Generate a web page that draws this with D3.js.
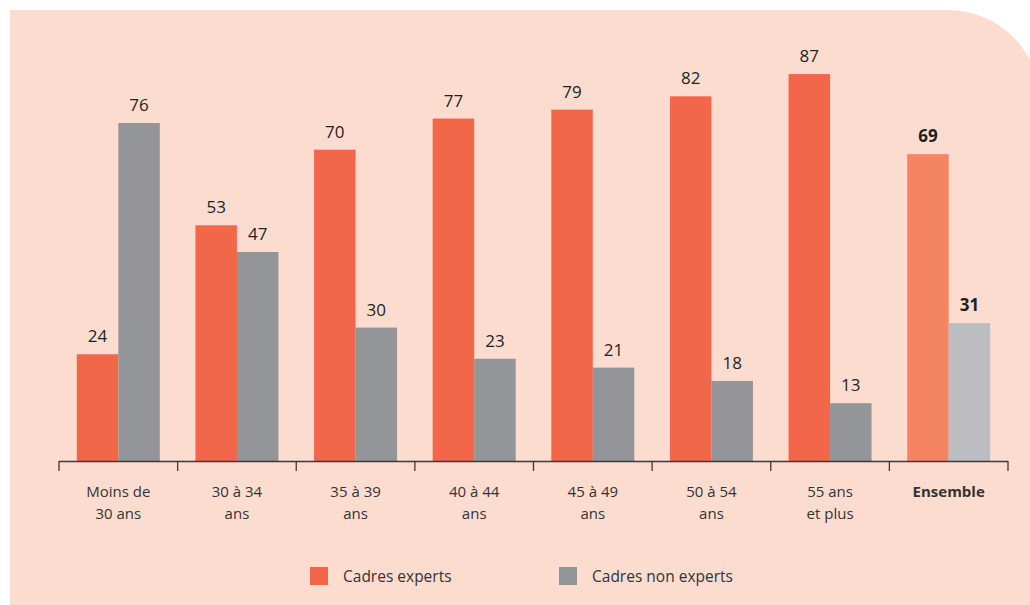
<!DOCTYPE html>
<html>
<head>
<meta charset="utf-8">
<script src="https://cdn.jsdelivr.net/npm/d3@7"></script>
<style>
  html, body { margin: 0; padding: 0; background: #ffffff; }
  svg { display: block; font-family: "Open Sans", "DejaVu Sans", sans-serif; }
</style>
</head>
<body>
<svg id="chart" width="1030" height="605"></svg>
<script>
// Age groups (two-line labels) and share of each type of manager, in %
const categories = [
  ["Moins de", "30 ans"],
  ["30 à 34", "ans"],
  ["35 à 39", "ans"],
  ["40 à 44", "ans"],
  ["45 à 49", "ans"],
  ["50 à 54", "ans"],
  ["55 ans", "et plus"],
  ["Ensemble"]
];
const experts    = [24, 53, 70, 77, 79, 82, 87, 69];
const nonExperts = [76, 47, 30, 23, 21, 18, 13, 31];
const seriesNames = ["Cadres experts", "Cadres non experts"];

const svg = d3.select("#chart");
const W = 1030, H = 605;

// Panel with a rounded top-right corner
const px = 10, py = 10, pw = 1030, ph = 600, r = 92;
svg.append("path")
  .attr("d", `M${px},${py} H${px + pw - r} A${r},${r} 0 0 1 ${px + pw},${py + r} V${py + ph} H${px} Z`)
  .attr("fill", "#fddcd0");

const left = 59, right = 1008, baseY = 461, topY = 123;
const x = d3.scaleBand().domain(d3.range(categories.length)).range([left, right]).paddingInner(0).paddingOuter(0);
const y = d3.scaleLinear().domain([0, 76]).range([baseY, topY]);
const sub = d3.scaleBand().domain([0, 1]).range([0, 83]);
const barOffset = (x.bandwidth() - 83) / 2;

const colors = [
  ["#f26649", "#939598"],
  ["#f58562", "#bbbdc0"]
];

const groups = svg.append("g").selectAll("g")
  .data(categories.map((c, i) => ({ i, vals: [experts[i], nonExperts[i]], total: c.length === 1 })))
  .join("g")
  .attr("transform", d => `translate(${x(d.i) + barOffset},0)`);

groups.selectAll("rect")
  .data(d => d.vals.map((v, k) => ({ v, k, total: d.total })))
  .join("rect")
  .attr("x", d => sub(d.k))
  .attr("width", sub.bandwidth())
  .attr("y", d => y(d.v))
  .attr("height", d => y(0) - y(d.v))
  .attr("fill", d => colors[d.total ? 1 : 0][d.k]);

groups.selectAll("text")
  .data(d => d.vals.map((v, k) => ({ v, k, total: d.total })))
  .join("text")
  .attr("x", d => sub(d.k) + sub.bandwidth() / 2)
  .attr("y", d => y(d.v) - 12)
  .attr("text-anchor", "middle")
  .attr("font-size", 17)
  .attr("font-weight", d => d.total ? "bold" : "normal")
  .attr("fill", "#231f20")
  .text(d => d.v);

// Baseline axis with ticks between groups
const axisG = svg.append("g");
axisG.append("line")
  .attr("x1", left).attr("x2", right)
  .attr("y1", baseY + 0.5).attr("y2", baseY + 0.5)
  .attr("stroke", "#3a3a3a").attr("stroke-width", 1.3);
const tickPos = d3.range(categories.length + 1).map(i => left + i * x.step());
axisG.selectAll("line.tick")
  .data(tickPos)
  .join("line")
  .attr("class", "tick")
  .attr("x1", d => d).attr("x2", d => d)
  .attr("y1", baseY).attr("y2", baseY + 10)
  .attr("stroke", "#3a3a3a").attr("stroke-width", 1.3);

// Category labels
const labels = svg.append("g").selectAll("text")
  .data(categories.map((c, i) => ({ c, i })))
  .join("text")
  .attr("x", d => x(d.i) + x.bandwidth() / 2)
  .attr("y", 497)
  .attr("text-anchor", "middle")
  .attr("font-size", 15)
  .attr("font-weight", d => d.c.length === 1 ? "bold" : "normal")
  .attr("fill", "#333333");
labels.selectAll("tspan")
  .data(d => d.c)
  .join("tspan")
  .attr("x", function () { return d3.select(this.parentNode).attr("x"); })
  .attr("dy", (d, k) => k === 0 ? 0 : 22)
  .text(d => d);

// Legend
const legend = svg.append("g").selectAll("g")
  .data(seriesNames)
  .join("g")
  .attr("transform", (d, k) => `translate(${k === 0 ? 310 : 559},567)`);
legend.append("rect")
  .attr("width", 18).attr("height", 18)
  .attr("fill", (d, k) => colors[0][k]);
legend.append("text")
  .attr("x", 33).attr("y", 15)
  .attr("font-size", 15.5)
  .attr("fill", "#333333")
  .text(d => d);
</script>
</body>
</html>
